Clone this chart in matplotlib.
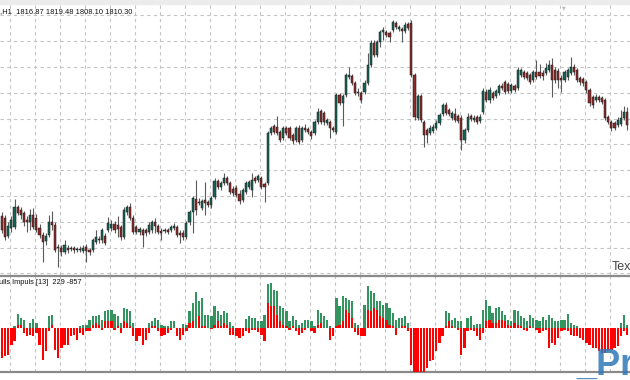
import numpy as np
import matplotlib
matplotlib.use("Agg")
import matplotlib.pyplot as plt
from matplotlib.ticker import MultipleLocator, NullFormatter
from matplotlib.patches import Rectangle

# H1 candles (oldest -> newest)
opens = [
    1765, 1764, 1755, 1759, 1759.5, 1769.5, 1768, 1766.5, 1763, 1762,
    1765.5, 1764, 1759, 1755.5, 1752.5, 1755.5, 1762, 1760.5, 1749.5, 1749,
    1747, 1749, 1748.5, 1749, 1748, 1748.5, 1747.5, 1749.5, 1748, 1748,
    1752, 1753.5, 1753, 1755, 1758, 1759, 1761, 1760.5, 1759.5, 1754.5,
    1767, 1769.5, 1764, 1759.5, 1757, 1758, 1758, 1757, 1758, 1762,
    1760, 1757.5, 1757.5, 1758, 1758, 1759, 1759.5, 1756.5, 1756.5, 1754.5,
    1762, 1767, 1773.5, 1772, 1769, 1773, 1772, 1770.5, 1774.5, 1782.5,
    1779.5, 1781.5, 1784, 1781.5, 1778.5, 1779, 1776, 1773, 1777, 1779.5,
    1778, 1784, 1783, 1784, 1781, 1781.5, 1806.5, 1810, 1809.5, 1807,
    1804, 1809, 1809, 1805.5, 1803, 1809, 1803, 1809, 1808.5, 1807,
    1806.5, 1812, 1817.5, 1816.5, 1811.5, 1812, 1809, 1807, 1825.5, 1821.5,
    1825.5, 1834.5, 1835, 1831.5, 1827, 1826.5, 1827, 1831.5, 1840.5, 1851.5,
    1845.5, 1852, 1857, 1857, 1856.5, 1858, 1861.5, 1858.5, 1858.5, 1857.5,
    1861, 1861.5, 1835.5, 1814, 1825, 1812, 1808, 1806.5, 1807.5, 1809,
    1811.5, 1816, 1820.5, 1818, 1814, 1816, 1815, 1814, 1803, 1808,
    1815, 1813, 1814.5, 1812.5, 1817, 1827, 1823, 1826.5, 1825, 1826.5,
    1830, 1832, 1831, 1827.5, 1830, 1829, 1835.5, 1837, 1836.5, 1835.5,
    1833, 1837, 1837, 1836.5, 1836.5, 1838, 1840.5, 1838, 1837.5, 1834,
    1833, 1834.5, 1836.5, 1839.5, 1838, 1834, 1833.5, 1832, 1828, 1824.5,
    1823, 1824.5, 1824, 1823, 1814.5, 1812, 1811.5, 1810.5, 1811, 1814,
    1816.87,
]
highs = [
    1767, 1765.5, 1762, 1765, 1773.5, 1770.5, 1769.5, 1767.5, 1765, 1768.5,
    1769, 1766, 1761, 1757, 1756.5, 1765.5, 1767.5, 1762, 1751, 1750.5,
    1753, 1750.5, 1750, 1750, 1749.5, 1750, 1750.5, 1751, 1749, 1754,
    1758, 1755, 1759, 1756.5, 1764.5, 1763, 1762.5, 1765, 1760.5, 1769.5,
    1770.5, 1771.5, 1765.5, 1760.5, 1759.5, 1759, 1759, 1762, 1763, 1764,
    1761, 1759, 1759, 1759, 1760.5, 1761.5, 1760.5, 1758, 1758, 1762.5,
    1768, 1775, 1783, 1774, 1773.5, 1782, 1773, 1775, 1784, 1783.5,
    1782.5, 1786.5, 1785, 1782.5, 1780, 1780.5, 1778, 1779, 1782.5, 1783,
    1786.5, 1785, 1786, 1785, 1782, 1807.5, 1810, 1811, 1815, 1808,
    1810, 1810, 1810, 1806.5, 1810, 1810.5, 1810, 1811, 1809.5, 1808,
    1813, 1819, 1818.5, 1817.5, 1814, 1813, 1810, 1826.5, 1826.5, 1826,
    1836.5, 1839.5, 1836, 1832.5, 1829, 1827.5, 1833, 1846.5, 1853, 1853,
    1853, 1858, 1859.5, 1858, 1857.5, 1863, 1862.5, 1860.5, 1859.5, 1862,
    1862, 1863, 1836.5, 1826, 1826, 1813, 1809, 1810.5, 1811, 1813,
    1816.5, 1821.5, 1822, 1819, 1817.5, 1819, 1816, 1815.5, 1809, 1816.5,
    1816, 1815.5, 1815.5, 1816, 1829, 1828.5, 1829.5, 1827.5, 1828.5, 1831,
    1831.5, 1833, 1832, 1831.5, 1831, 1839.5, 1839, 1838, 1837.5, 1836.5,
    1838, 1843, 1841, 1838, 1841.5, 1843, 1844, 1839.5, 1839, 1835.5,
    1838, 1839, 1844.5, 1841, 1839, 1835, 1834.5, 1833, 1829, 1825.5,
    1826, 1825.5, 1825, 1824, 1815.5, 1813, 1812.5, 1814.5, 1818, 1820,
    1819.48,
]
lows = [
    1756.5, 1753, 1754, 1757, 1758.5, 1765.5, 1763.5, 1760, 1757, 1758,
    1758.5, 1757, 1754, 1742, 1750.5, 1754.5, 1758, 1747, 1739.5, 1745,
    1746, 1746.5, 1747.5, 1746.5, 1747, 1747, 1746.5, 1742, 1745.5, 1747,
    1751, 1751.5, 1751.5, 1750.5, 1757, 1757.5, 1756.5, 1754.5, 1753, 1753.5,
    1765.5, 1763, 1756, 1756, 1755.5, 1749.5, 1755, 1756, 1756.5, 1756.5,
    1756, 1753, 1756.5, 1756, 1757, 1758, 1754.5, 1751.5, 1753, 1753.5,
    1760.5, 1756.5, 1765.5, 1770.5, 1768, 1765.5, 1769.5, 1769, 1773.5, 1778.5,
    1778, 1780.5, 1780.5, 1776, 1775, 1774.5, 1771, 1772, 1776, 1778.5,
    1774.5, 1781.5, 1782, 1778.5, 1772, 1780.5, 1805.5, 1806, 1805.5, 1802,
    1803, 1805.5, 1803, 1801, 1802, 1801, 1802, 1807, 1806, 1803.5,
    1805.5, 1811, 1811, 1810.5, 1810.5, 1804, 1807, 1806, 1820.5, 1810,
    1824.5, 1833.5, 1830.5, 1825.5, 1825, 1821.5, 1826, 1830.5, 1839.5, 1844.5,
    1844.5, 1849.5, 1853, 1854.5, 1852, 1857, 1858.5, 1857.5, 1852, 1856.5,
    1858, 1834.5, 1813, 1813, 1812, 1799.5, 1801.5, 1805.5, 1806.5, 1808,
    1810.5, 1815, 1815.5, 1815, 1813, 1812, 1811.5, 1798, 1801.5, 1807,
    1812.5, 1812, 1811, 1811.5, 1816, 1822, 1821.5, 1823, 1824, 1825.5,
    1828, 1826, 1826.5, 1826.5, 1827, 1828, 1834.5, 1833.5, 1833, 1831,
    1832, 1833.5, 1834, 1833, 1835.5, 1837, 1824.5, 1831.5, 1829, 1827,
    1832, 1833, 1835.5, 1835.5, 1832, 1830.5, 1830, 1826.5, 1820, 1819,
    1822, 1822, 1821, 1813, 1811, 1807.5, 1808, 1809.5, 1810, 1813,
    1808.10,
]
closes = [
    1758, 1754.5, 1760, 1763, 1769.5, 1766.5, 1765.5, 1762, 1762, 1765.5,
    1759.5, 1758, 1755.5, 1752, 1755, 1762, 1760.5, 1748, 1749, 1747,
    1750.5, 1748, 1749, 1748, 1748.5, 1748, 1749, 1747.5, 1747, 1753,
    1754.5, 1753, 1758, 1751.5, 1761.5, 1761, 1758, 1758.5, 1754.5, 1768,
    1769.5, 1764, 1757, 1757, 1758.5, 1755.5, 1756.5, 1760.5, 1762, 1760,
    1757, 1756.5, 1758, 1757, 1759.5, 1760, 1755.5, 1755.5, 1754.5, 1761.5,
    1767, 1774, 1768, 1771.5, 1772.5, 1771.5, 1770.5, 1774, 1782.5, 1779.5,
    1781.5, 1784, 1781.5, 1777, 1776.5, 1775.5, 1772.5, 1778, 1781.5, 1782,
    1783, 1782.5, 1785, 1779.5, 1779.5, 1806.5, 1809, 1807, 1806.5, 1803,
    1809, 1806.5, 1804, 1802.5, 1809, 1802, 1809, 1808, 1807, 1805,
    1812, 1817, 1812, 1812, 1813, 1809, 1808, 1825.5, 1821.5, 1825,
    1835.5, 1835.5, 1831.5, 1826.5, 1826.5, 1823, 1831.5, 1840.5, 1851.5, 1845.5,
    1852, 1857, 1858, 1855.5, 1854.5, 1862, 1859.5, 1859.5, 1857.5, 1860.5,
    1859, 1835.5, 1814.5, 1825, 1813, 1805.5, 1805.5, 1809, 1809.5, 1811.5,
    1815.5, 1820.5, 1816.5, 1816, 1816.5, 1813, 1812.5, 1803, 1808, 1814.5,
    1813.5, 1814, 1812, 1814.5, 1827.5, 1823, 1828, 1824, 1827.5, 1830,
    1829, 1827, 1827.5, 1830.5, 1828, 1838, 1838, 1834.5, 1834, 1832,
    1837, 1834.5, 1835, 1835, 1839, 1840.5, 1833, 1833, 1833, 1833,
    1837, 1838, 1839.5, 1837, 1833, 1832, 1831.5, 1828, 1821.5, 1820.5,
    1824.5, 1823, 1822, 1814, 1812, 1809, 1809, 1813, 1814, 1817,
    1810.30,
]

# Bulls Impuls [13] histograms (green buffer and red buffer)
bulls = [
    0, 0, 0, 0, 2, 14, 10, 8, 0, 5,
    9, 5, 0, 0, 0, 12, 13, 0, 0, 0,
    0, 0, 0, 0, 0, 2, 3, 3, 8, 12,
    12, 13, 8, 17, 18, 18, 14, 12, 5, 20,
    19, 17, 5, 0, 0, 0, 0, 5, 7, 10,
    8, 3, 2, 2, 7, 7, 0, 0, 4, 3,
    17, 25, 36, 27, 30, 13, 13, 12, 22, 17,
    13, 17, 15, 6, 2, 0, 0, 0, 9, 12,
    10, 10, 7, 7, 13, 44, 45, 38, 37, 22,
    20, 17, 7, 12, 8, 3, 5, 8, 8, 7,
    2, 18, 15, 12, 8, 2, 0, 30, 22, 32,
    30, 28, 27, 5, 3, 0, 23, 42, 37, 35,
    27, 27, 23, 25, 20, 15, 8, 10, 10, 12,
    5, 0, 0, 0, 0, 0, 0, 0, 0, 0,
    0, 0, 17, 15, 8, 10, 7, 7, 0, 10,
    12, 3, 4, 4, 18, 28, 22, 15, 20, 21,
    17, 13, 8, 7, 18, 17, 12, 10, 7, 13,
    10, 8, 7, 11, 8, 13, 10, 7, 7, 8,
    8, 14, 5, 3, 2, 0, 0, 0, 0, 0,
    0, 0, 0, 0, 0, 0, 0, 0, 5, 13,
    3,
]
bears = [
    -30, -28, -27, -17, -13, 3, 3, -5, -8, -7,
    -8, -5, -17, -32, -23, -3, 3, -22, -30, -20,
    -17, -17, -8, -7, -12, -5, -7, -3, -3, 3,
    5, 3, -2, 7, 7, 7, -2, 2, -5, 7,
    5, 2, -8, -13, -8, -17, -12, -5, 2, 2,
    -3, -8, -7, -5, -2, 0, -8, -12, -7, -3,
    5, 7, 0, 12, 2, 2, 0, -1, 3, 7,
    2, 5, 3, -7, -7, -8, -10, -8, -3, -5,
    -2, -2, -4, -7, -13, 25, 22, 22, 13, 7,
    3, 2, -2, 2, -3, -7, -5, -2, 0, -3,
    -5, 3, 5, 0, 0, -12, -8, 2, 3, 7,
    18, 15, 10, -4, -7, -8, -8, 18, 17, 20,
    18, 12, 10, 8, 3, 2, -7, 0, 2, 2,
    -3, -37, -45, -45, -45, -45, -40, -33, -32, -23,
    -15, -8, 2, 7, 2, 0, -2, -27, -20, -3,
    -2, -3, -8, -12, -5, 7, 8, 5, 5, 8,
    8, 7, 3, 2, 5, 3, 2, -2, -3, 2,
    0, -2, -5, -3, -2, -20, -15, -17, -10, -3,
    -2, -3, -7, -8, -8, -10, -12, -15, -17, -20,
    -20, -23, -25, -25, -23, -22, -20, -18, -8, -3,
    -7,
]

title = "#,H1  1816.87 1819.48 1808.10 1810.30"
ind_label = "Bulls Impuls [13]  229 -857"

W, H = 630, 380
fig = plt.figure(figsize=(W / 100, H / 100), dpi=100)
fig.patch.set_facecolor("white")

o = np.array(opens)
h = np.array(highs)
l = np.array(lows)
c = np.array(closes)
x = np.arange(len(o))

grid_kw = dict(color="#c4c4c4", linestyle=(0, (3, 3)), linewidth=0.8)

# main price window
ax = fig.add_axes([0, (H - 275) / H, 1, 270 / H])
ax.set_xlim(-0.64, 200.96)
ax.set_ylim(1735.5, 1870.5)
ax.xaxis.set_major_locator(MultipleLocator(8, offset=2.56))
ax.yaxis.set_major_locator(MultipleLocator(12.9, offset=7.65))
ax.grid(True, **grid_kw)
ax.set_axisbelow(True)
ax.tick_params(length=0)
ax.xaxis.set_major_formatter(NullFormatter())
ax.yaxis.set_major_formatter(NullFormatter())
for s in ax.spines.values():
    s.set_visible(False)

up = c >= o
ax.vlines(x, l, h, color="#5a5a5a", linewidth=0.8, zorder=2)
body_lo = np.minimum(o, c)
body_h = np.maximum(np.abs(c - o), 0.35)
ax.bar(x, body_h, bottom=body_lo, width=0.68,
       color=np.where(up, "#176456", "#8e2a2a"),
       edgecolor="#1a1a1a", linewidth=0.35, zorder=3)

# indicator window
ax2 = fig.add_axes([0, 8 / H, 1, 96 / H])
ax2.set_xlim(-0.64, 200.96)
ax2.set_ylim(-43.7, 52.3)
ax2.xaxis.set_major_locator(MultipleLocator(8, offset=2.56))
ax2.grid(True, axis="x", **grid_kw)
ax2.set_axisbelow(True)
ax2.tick_params(length=0)
ax2.set_yticks([])
ax2.xaxis.set_major_formatter(NullFormatter())
ax2.bar(x, bulls, width=0.72, color="#339460", linewidth=0, zorder=2)
ax2.bar(x, bears, width=0.72, color="#ff0000", linewidth=0, zorder=3)
for side in ("left", "right"):
    ax2.spines[side].set_visible(False)
for side in ("top", "bottom"):
    ax2.spines[side].set_color("#8a8a8a")
    ax2.spines[side].set_linewidth(1.6)

# window chrome and labels
fig.patches.append(Rectangle((0, 1 - 4 / H), 1, 4 / H, transform=fig.transFigure,
                             color="#ececec", zorder=0))
fig.text(-4 / W, 1 - 12 / H, title, fontsize=5.4, family="Liberation Sans",
         color="#111111", va="center", ha="left")
fig.text(564 / W, 1 - 8 / H, "\u25bc", fontsize=3.5, color="#b8b8b8",
         ha="center", va="center")
fig.text(-6 / W, 1 - 283 / H, ind_label, fontsize=5.3, family="Liberation Sans",
         color="#111111", va="center", ha="left")
fig.text(612 / W, 1 - 273 / H, "Text", fontsize=9, family="Liberation Sans",
         color="#444444", va="bottom", ha="left")
fig.text(576 / W, 5 / H, "_Pro", fontsize=26, fontweight="bold",
         family=["Liberation Sans Narrow", "Liberation Sans"], color="#2f78b8",
         alpha=0.85, va="baseline", ha="left")

fig.savefig("out.png", dpi=100)
